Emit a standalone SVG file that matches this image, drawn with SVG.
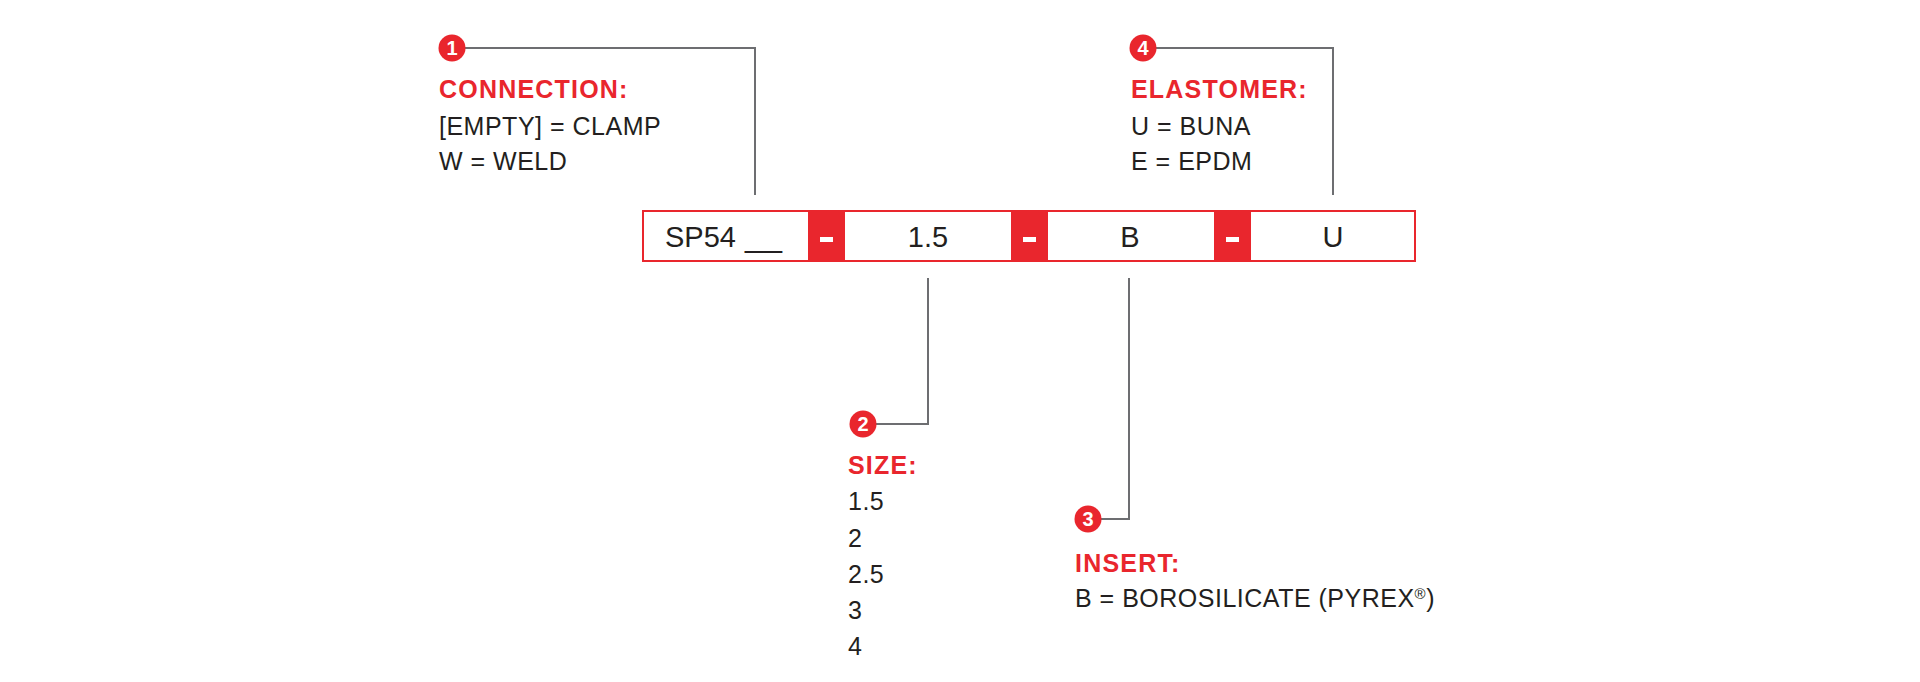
<svg xmlns="http://www.w3.org/2000/svg" width="1920" height="682" viewBox="0 0 1920 682">
<style>
.bg{fill:#ffffff}
.ln{fill:none;stroke:#6d6e71;stroke-width:2}
.badge{fill:#e9262d}
.num{font-family:"Liberation Sans",Arial,sans-serif;font-weight:bold;font-size:20px;fill:#ffffff;text-anchor:middle}
.hd{font-family:"Liberation Sans",Arial,sans-serif;font-weight:bold;font-size:25px;fill:#e9262d;letter-spacing:1.2px}
.tx{font-family:"Liberation Sans",Arial,sans-serif;font-size:25px;fill:#231f20;letter-spacing:0.5px}
.box{fill:#ffffff;stroke:#e9262d;stroke-width:2}
.sep{fill:#e9262d}
.dash{fill:#ffffff}
.code{font-family:"Liberation Sans",Arial,sans-serif;font-size:29px;fill:#231f20;text-anchor:middle}
.codel{font-family:"Liberation Sans",Arial,sans-serif;font-size:29px;fill:#231f20}
</style>
<rect class="bg" x="0" y="0" width="1920" height="682"/>
<g id="connectors">
<polyline class="ln" points="465,48 755,48 755,195"/>
<polyline class="ln" points="1156,48 1333,48 1333,195"/>
<polyline class="ln" points="876,424 928,424 928,278"/>
<polyline class="ln" points="1101,519 1129,519 1129,278"/>
</g>
<g id="code-box">
<rect class="box" x="643" y="211" width="772" height="50"/>
<rect class="sep" x="808" y="210" width="37" height="52"/>
<rect class="sep" x="1011" y="210" width="37" height="52"/>
<rect class="sep" x="1214" y="210" width="37" height="52"/>
<rect class="dash" x="820" y="237" width="13" height="5"/>
<rect class="dash" x="1023" y="237" width="13" height="5"/>
<rect class="dash" x="1226" y="237" width="13" height="5"/>
<text class="codel" x="665" y="247">SP54</text>
<text class="codel" x="745" y="247" textLength="37" lengthAdjust="spacingAndGlyphs">__</text>
<text class="code" x="928" y="247">1.5</text>
<text class="code" x="1130" y="247">B</text>
<text class="code" x="1333" y="247">U</text>
</g>
<g id="node-1">
<circle class="badge" cx="452" cy="48" r="13.5"/>
<text class="num" x="452" y="55">1</text>
<text class="hd" x="439" y="98">CONNECTION:</text>
<text class="tx" x="439" y="135">[EMPTY] = CLAMP</text>
<text class="tx" x="439" y="170">W = WELD</text>
</g>
<g id="node-4">
<circle class="badge" cx="1143" cy="48" r="13.5"/>
<text class="num" x="1143" y="55">4</text>
<text class="hd" x="1131" y="98">ELASTOMER:</text>
<text class="tx" x="1131" y="135">U = BUNA</text>
<text class="tx" x="1131" y="170">E = EPDM</text>
</g>
<g id="node-2">
<circle class="badge" cx="863" cy="424" r="13.5"/>
<text class="num" x="863" y="431">2</text>
<text class="hd" x="848" y="474">SIZE:</text>
<text class="tx" x="848" y="510">1.5</text>
<text class="tx" x="848" y="547">2</text>
<text class="tx" x="848" y="583">2.5</text>
<text class="tx" x="848" y="619">3</text>
<text class="tx" x="848" y="655">4</text>
</g>
<g id="node-3">
<circle class="badge" cx="1088" cy="519" r="13.5"/>
<text class="num" x="1088" y="526">3</text>
<text class="hd" x="1075" y="572">INSERT:</text>
<text class="tx" x="1075" y="607">B = BOROSILICATE (PYREX<tspan font-size="15" dy="-8">®</tspan><tspan dy="8">)</tspan></text>
</g>
</svg>
